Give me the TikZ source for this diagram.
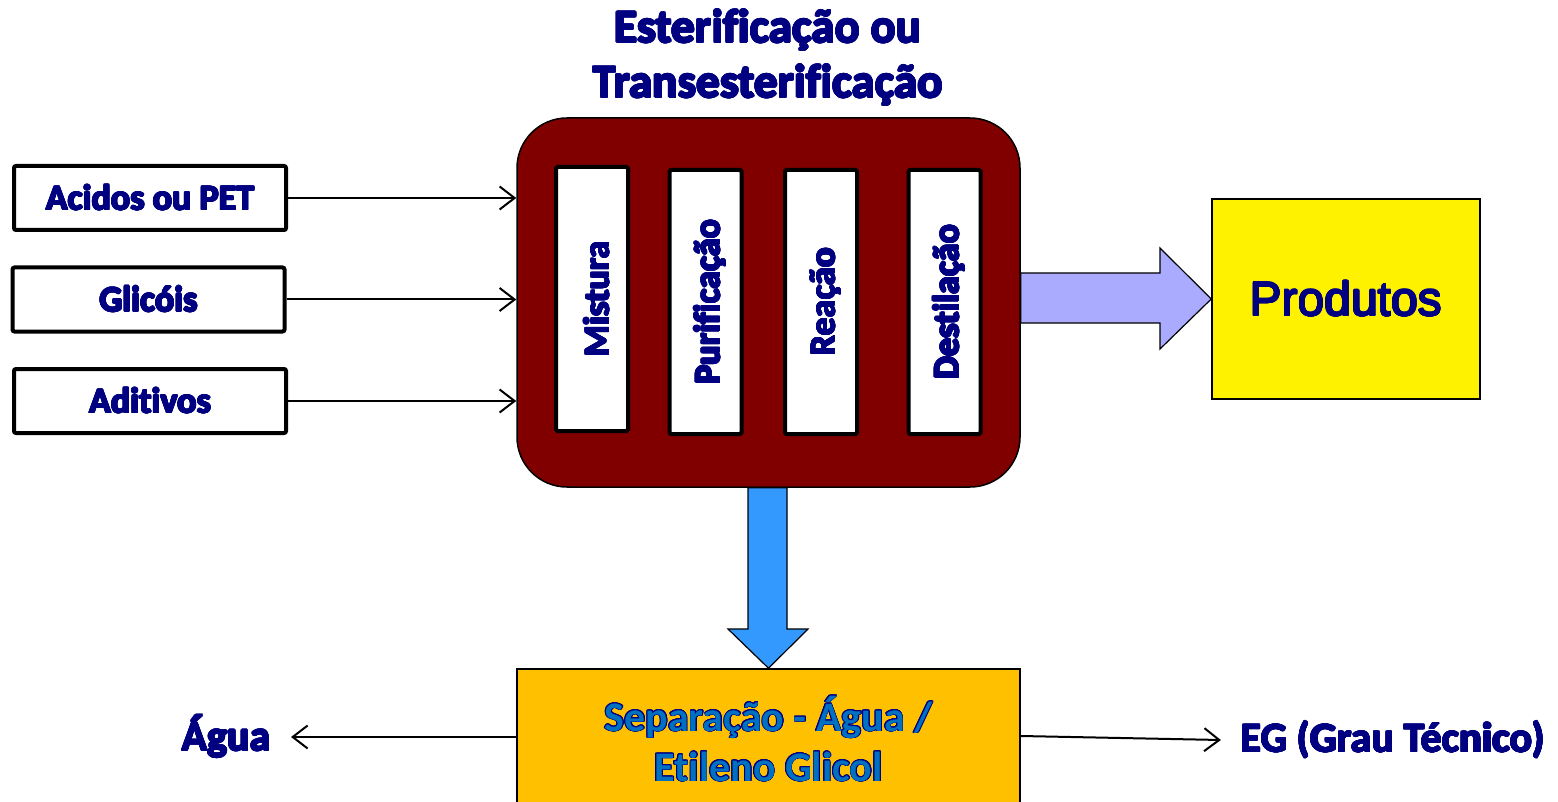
\documentclass[tikz,border=0pt]{standalone}
\usepackage{fontspec}
\usepackage{xcolor}
\usepackage{contour}
\usepackage{tikz}
\usetikzlibrary{arrows.meta}
\setmainfont{Carlito}[Ligatures=NoCommon]
\newfontfamily\arialfont{Liberation Sans}
\definecolor{navytext}{HTML}{000080}
\definecolor{reactorred}{HTML}{800000}
\definecolor{sepblue}{HTML}{0070C0}
\definecolor{sepbox}{HTML}{FFC000}
\definecolor{prodarrow}{HTML}{AAAAFF}
\definecolor{waterarrow}{HTML}{3399FF}
\contourlength{0.8pt}
\newcommand{\heavy}[1]{\contour{navytext}{#1}}

\begin{document}
\begin{tikzpicture}[x=1pt,y=-1pt,inner sep=0pt]
    \tikzstyle{feed}=[rectangle,draw=black,line width=4pt,rounded corners=2pt,fill=white,minimum width=272pt,minimum height=64pt,text=navytext,font=\fontsize{36}{40}\selectfont\bfseries]
    \tikzstyle{stage}=[rectangle,draw=black,line width=4pt,rounded corners=1.5pt,fill=white,minimum width=72pt,minimum height=264pt]
    \tikzstyle{stagetxt}=[rotate=90,text=navytext,font=\fontsize{36}{40}\selectfont\bfseries]
    \tikzstyle{outlbl}=[text=navytext,inner xsep=20pt,font=\fontsize{42}{46}\selectfont\bfseries]
    \tikzstyle{thin}=[-{Straight Barb[length=15pt,width=23pt]},line width=2pt]
    \useasboundingbox (0,0) rectangle (1558,802);

    \node[align=center,text=navytext,font=\fontsize{47}{55}\selectfont\bfseries] (title) at (768,58) {\heavy{Esterificação ou}\\\heavy{Transesterificação}};

    \node[rectangle,draw=black,line width=1.5pt,fill=reactorred,rounded corners=50pt,minimum width=503pt,minimum height=369pt] (proc) at (768.5,302.5) {};
    \foreach \name/\txt/\x/\y in {mix/Mistura/592/299, pur/Purificação/705.5/302, reac/Reação/821/302, dest/Destilação/944.5/302} {
        \node[stage] (\name) at (\x,\y) {};
        \node[stagetxt] (\name txt) at ([xshift=5pt]\name.center) {\heavy{\txt}};
    };

    \foreach \name/\txt/\x/\y in {acid/Acidos ou PET/150/198, glyc/Glicóis/148.5/299.5, addt/Aditivos/150/401} {
        \node[feed] (\name) at (\x,\y) {\heavy{\txt}};
        \draw[thin] (\name.east) -- (\name.east -| proc.west);
    };

    \node[rectangle,draw=black,line width=1.5pt,fill=yellow,minimum width=268pt,minimum height=200pt,text=navytext,font=\arialfont\fontsize{48}{52}\selectfont] (prod) at (1346,299) {\heavy{Produtos}};
    \draw[line width=1.2pt,fill=prodarrow] (proc.east |- 0,273) -- (1160,273) -- (1160,248) -- (prod.west) -- (1160,349) -- (1160,323) -- (proc.east |- 0,323) -- cycle;

    \node[rectangle,draw=black,line width=1.5pt,fill=sepbox,minimum width=503pt,minimum height=140pt,align=center,text=sepblue,font=\fontsize{42}{50}\selectfont\bfseries] (sep) at (768.5,739) {\heavy{Separação - Água /}\\\heavy{Etileno Glicol}};
    \draw[line width=1.2pt,fill=waterarrow] (748,0 |- proc.south) -- (748,629) -- (728,629) -- (sep.north) -- (808,629) -- (787,629) -- (787,0 |- proc.south) -- cycle;

    \node[outlbl] (agua) at (226.5,737) {\heavy{Água}};
    \node[outlbl] (eg) at (1393,740) {\heavy{EG (Grau Técnico)}};
    \draw[thin] (sep.west |- agua) -- (agua.east);
    \draw[thin] (sep.east |- 0,736) -- (eg.west);
\end{tikzpicture}
\end{document}
